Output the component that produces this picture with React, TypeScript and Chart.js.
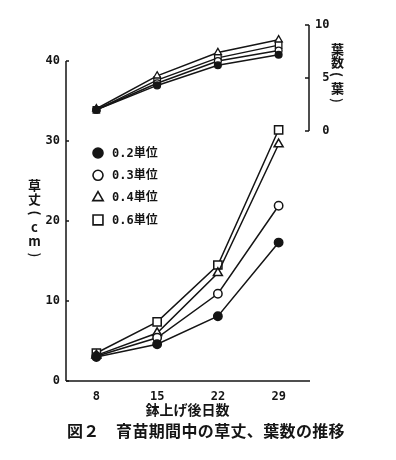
import React, { useEffect, useRef } from 'react';
import { Chart, registerables } from 'chart.js';
import { drawPoint } from 'chart.js/helpers';

Chart.register(...registerables);

// ---- data ----
const days = ['8', '15', '22', '29'];
const seriesLabels = ['0.2単位', '0.3単位', '0.4単位', '0.6単位'];
const height02 = [3.0, 4.6, 8.1, 17.3];
const height03 = [3.1, 5.4, 10.9, 21.9];
const height04 = [3.2, 6.0, 13.5, 29.6];
const height06 = [3.5, 7.4, 14.5, 31.4];
const leaves02 = [2.0, 4.3, 6.2, 7.2];
const leaves03 = [2.0, 4.5, 6.6, 7.6];
const leaves04 = [2.1, 5.2, 7.4, 8.6];
const leaves06 = [2.0, 4.8, 6.9, 8.1];
const heightTicks = [0, 10, 20, 30, 40];
const leafTicks = [0, 5, 10];
const xTitle = '鉢上げ後日数';
const leftTitle = '草丈(cm)';
const rightTitle = '葉数(葉)';
const caption = '図２　育苗期間中の草丈、葉数の推移';

const INK = '#151515';
const markers = [
  { style: 'circle', fill: INK, r: 4.2, lr: 3.4, legR: 5 },
  { style: 'circle', fill: '#ffffff', r: 4.2, lr: 3.4, legR: 5 },
  { style: 'triangle', fill: '#ffffff', r: 5.2, lr: 4.2, legR: 6 },
  { style: 'rect', fill: '#ffffff', r: 5.8, lr: 4.6, legR: 7 },
];

const heightSeries = [height02, height03, height04, height06];
const leafSeries = [leaves02, leaves03, leaves04, leaves06];

const tickFont = { family: '"DejaVu Sans Mono", monospace', size: 12, weight: 'bold' as const };

const axesPlugin = {
  id: 'customAxes',
  afterDatasetsDraw(chart: any) {
    const { ctx, chartArea, scales } = chart;
    const y = scales.y;
    const y2 = scales.y2;
    ctx.save();
    ctx.strokeStyle = INK;
    ctx.lineWidth = 1.5;
    ctx.beginPath();
    ctx.moveTo(chartArea.left, chartArea.bottom);
    ctx.lineTo(chartArea.right + 1, chartArea.bottom);
    ctx.stroke();
    const lx = chartArea.left;
    ctx.beginPath();
    ctx.moveTo(lx, y.getPixelForValue(heightTicks[0]));
    ctx.lineTo(lx, y.getPixelForValue(heightTicks[heightTicks.length - 1]));
    heightTicks.forEach((v) => {
      const py = y.getPixelForValue(v);
      ctx.moveTo(lx, py);
      ctx.lineTo(lx + 3, py);
    });
    ctx.stroke();
    const rx = chartArea.right;
    ctx.beginPath();
    ctx.moveTo(rx, y2.getPixelForValue(leafTicks[0]));
    ctx.lineTo(rx, y2.getPixelForValue(leafTicks[leafTicks.length - 1]));
    leafTicks.forEach((v) => {
      const py = y2.getPixelForValue(v);
      ctx.moveTo(rx, py);
      ctx.lineTo(rx - 4, py);
    });
    ctx.stroke();
    ctx.restore();
  },
};

const legendPlugin = {
  id: 'fixedLegend',
  afterDraw(chart: any) {
    const { ctx } = chart;
    ctx.save();
    seriesLabels.forEach((label, i) => {
      const m = markers[i];
      const py = 145 + i * 22.3;
      ctx.fillStyle = m.fill;
      ctx.strokeStyle = INK;
      ctx.lineWidth = 1.6;
      drawPoint(ctx, { pointStyle: m.style, radius: m.legR, borderWidth: 1.6, rotation: 0 } as any, 90, py);
      ctx.fillStyle = INK;
      ctx.font = 'bold 12px "DejaVu Sans Mono", "Noto Sans CJK JP", sans-serif';
      ctx.textBaseline = 'middle';
      ctx.textAlign = 'left';
      ctx.fillText(label, 104, py + 0.5);
    });
    ctx.restore();
  },
};

function VerticalTitle({ text, left, top, size, step }: { text: string; left: number; top: number; size: number; step: number }) {
  return (
    <div
      style={{
        position: 'absolute',
        left,
        top,
        width: size + 2,
        display: 'flex',
        flexDirection: 'column',
        alignItems: 'center',
        fontFamily: '"Noto Sans CJK JP", sans-serif',
        fontWeight: 'bold',
        fontSize: size,
        color: INK,
      }}
    >
      {Array.from(text).map((ch, i) => {
        const paren = ch === '(' || ch === ')';
        return (
          <span
            key={i}
            style={{
              display: 'block',
              width: size + 2,
              height: step,
              lineHeight: `${step}px`,
              textAlign: 'center',
              transform: paren ? 'rotate(90deg)' : undefined,
              transformOrigin: '50% 50%',
            }}
          >
            {ch}
          </span>
        );
      })}
    </div>
  );
}

export default function App() {
  const canvasRef = useRef<HTMLCanvasElement | null>(null);

  useEffect(() => {
    if (!canvasRef.current) return;
    const datasets: any[] = [];
    heightSeries.forEach((data, i) => {
      const m = markers[i];
      datasets.push({
        label: seriesLabels[i],
        data,
        yAxisID: 'y',
        borderColor: INK,
        borderWidth: 1.5,
        pointStyle: m.style,
        pointRadius: m.r,
        pointBackgroundColor: m.fill,
        pointBorderColor: INK,
        pointBorderWidth: 1.5,
        tension: 0,
        fill: false,
      });
    });
    leafSeries.forEach((data, i) => {
      const m = markers[i];
      datasets.push({
        label: seriesLabels[i] + ' 葉数',
        data,
        yAxisID: 'y2',
        borderColor: INK,
        borderWidth: 1.5,
        pointStyle: m.style,
        pointRadius: m.lr,
        pointBackgroundColor: m.fill,
        pointBorderColor: INK,
        pointBorderWidth: 1.3,
        tension: 0,
        fill: false,
      });
    });

    const chart = new Chart(canvasRef.current, {
      type: 'line',
      data: { labels: days, datasets },
      options: {
        responsive: false,
        animation: false,
        layout: { padding: { top: 17, bottom: 34, left: 0, right: 0 } },
        plugins: {
          legend: { display: false },
          tooltip: { enabled: false },
          title: { display: false },
        },
        scales: {
          x: {
            type: 'category',
            offset: true,
            grid: { display: false, drawTicks: false },
            border: { display: false },
            ticks: { color: INK, font: tickFont, padding: 9, maxRotation: 0 },
            title: {
              display: true,
              text: xTitle,
              color: INK,
              font: { family: '"Noto Sans CJK JP", sans-serif', size: 14, weight: 'bold' },
              padding: { top: 0, bottom: 0 },
            },
            afterFit: (scale: any) => {
              scale.height = 37;
            },
          },
          y: {
            type: 'linear',
            position: 'left',
            min: 0,
            max: 44.5,
            grid: { display: false, drawTicks: false },
            border: { display: false },
            ticks: { color: INK, font: tickFont, padding: 6 },
            afterBuildTicks: (scale: any) => {
              scale.ticks = heightTicks.map((v) => ({ value: v }));
            },
            afterFit: (scale: any) => {
              scale.width = 58;
            },
          },
          y2: {
            type: 'linear',
            position: 'right',
            min: -23.585,
            max: 10,
            grid: { display: false, drawTicks: false },
            border: { display: false },
            ticks: {
              color: INK,
              font: tickFont,
              padding: 6,
              callback: (v: any) => String(v).padStart(2, ' '),
            },
            afterBuildTicks: (scale: any) => {
              scale.ticks = leafTicks.map((v) => ({ value: v }));
            },
            afterFit: (scale: any) => {
              scale.width = 79;
            },
          },
        },
      } as any,
      plugins: [axesPlugin, legendPlugin],
    });
    return () => chart.destroy();
  }, []);

  return (
    <div style={{ position: 'relative', width: 380, height: 444, background: '#fff' }}>
      <canvas ref={canvasRef} width={380} height={444} style={{ display: 'block' }} />
      <VerticalTitle text={leftTitle} left={19} top={170} size={13} step={14} />
      <VerticalTitle text={rightTitle} left={322} top={34} size={13} step={13} />
      <div
        style={{
          position: 'absolute',
          left: 59,
          top: 414,
          fontFamily: '"Noto Sans CJK JP", sans-serif',
          fontWeight: 'bold',
          fontSize: 16,
          lineHeight: '16px',
          letterSpacing: '0.35px',
          color: INK,
          whiteSpace: 'nowrap',
        }}
      >
        {caption}
      </div>
    </div>
  );
}
